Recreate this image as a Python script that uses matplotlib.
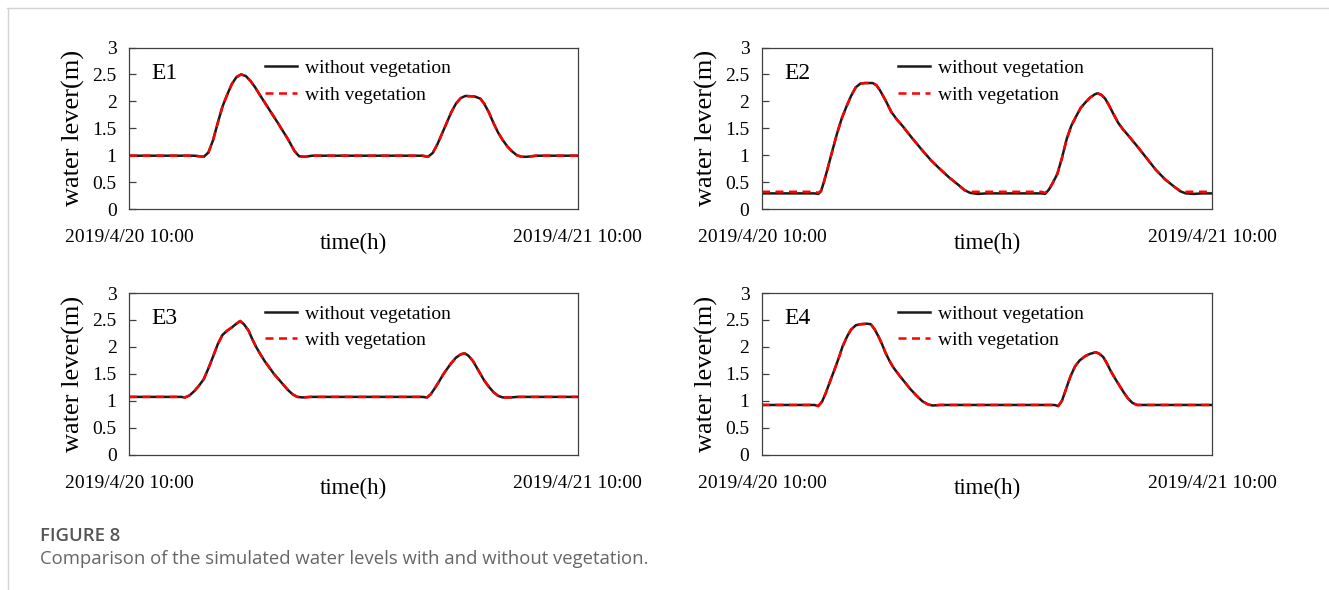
import matplotlib
matplotlib.use("Agg")
import matplotlib.pyplot as plt
from matplotlib.lines import Line2D

# ---- data: water level (m), time in hours after 2019/4/20 10:00 ----
e1_hours = [0, 3.5, 4.0, 4.25, 4.5, 4.75, 5.0, 5.25, 5.5, 5.75, 6.0, 6.25, 6.5,
            6.75, 7.0, 7.5, 8.0, 8.5, 8.85, 9.1, 9.4, 9.8, 15.7, 16.0, 16.25,
            16.5, 16.75, 17.0, 17.25, 17.5, 17.75, 18.0, 18.5, 18.8, 19.0,
            19.25, 19.5, 19.75, 20.0, 20.25, 20.5, 20.75, 21.0, 21.3, 21.8, 24]
e1_without = [0.99, 0.99, 0.97, 1.05, 1.28, 1.60, 1.90, 2.12, 2.32, 2.45, 2.50,
              2.47, 2.38, 2.26, 2.12, 1.85, 1.58, 1.30, 1.08, 0.98, 0.97, 0.99,
              0.99, 0.97, 1.04, 1.20, 1.40, 1.60, 1.80, 1.96, 2.06, 2.10, 2.09,
              2.05, 1.96, 1.80, 1.60, 1.42, 1.28, 1.16, 1.07, 1.00, 0.97, 0.97,
              0.99, 0.99]
e1_with = list(e1_without)

e2_hours = [0, 2.8, 3.0, 3.15, 3.3, 3.5, 3.75, 4.0, 4.25, 4.5, 4.75, 5.0, 5.25,
            5.5, 5.9, 6.1, 6.3, 6.6, 6.9, 7.2, 7.5, 8.0, 8.5, 9.0, 9.5, 10.0,
            10.5, 10.8, 11.1, 11.5, 12, 14.9, 15.1, 15.3, 15.5, 15.75, 16.0,
            16.25, 16.5, 16.75, 17.0, 17.25, 17.5, 17.75, 17.9, 18.1, 18.3,
            18.5, 18.75, 19.0, 19.25, 19.5, 20.0, 20.5, 21.0, 21.5, 22.0, 22.3,
            22.6, 23.0, 23.5, 24]
e2_without = [0.29, 0.29, 0.28, 0.33, 0.50, 0.75, 1.08, 1.40, 1.68, 1.90, 2.10,
              2.26, 2.33, 2.34, 2.34, 2.30, 2.20, 2.01, 1.80, 1.66, 1.54, 1.32,
              1.11, 0.91, 0.74, 0.58, 0.44, 0.35, 0.30, 0.28, 0.29, 0.29, 0.28,
              0.36, 0.48, 0.65, 0.95, 1.30, 1.55, 1.72, 1.88, 1.98, 2.07, 2.13,
              2.15, 2.12, 2.05, 1.93, 1.76, 1.60, 1.48, 1.38, 1.17, 0.95, 0.73,
              0.55, 0.41, 0.33, 0.29, 0.28, 0.29, 0.29]
e2_with = [0.32, 0.32, 0.30, 0.34, 0.50, 0.75, 1.08, 1.40, 1.68, 1.90, 2.10,
           2.26, 2.33, 2.34, 2.34, 2.30, 2.20, 2.01, 1.80, 1.66, 1.54, 1.32,
           1.11, 0.91, 0.74, 0.58, 0.44, 0.35, 0.32, 0.32, 0.32, 0.32, 0.30,
           0.36, 0.48, 0.65, 0.95, 1.30, 1.55, 1.72, 1.88, 1.98, 2.07, 2.13,
           2.15, 2.12, 2.05, 1.93, 1.76, 1.60, 1.48, 1.38, 1.17, 0.95, 0.73,
           0.55, 0.41, 0.34, 0.32, 0.32, 0.32, 0.32]

e3_hours = [0, 2.8, 3.0, 3.25, 3.5, 3.75, 4.0, 4.25, 4.5, 4.75, 5.0, 5.25, 5.5,
            5.75, 5.95, 6.15, 6.4, 6.6, 6.8, 7.0, 7.25, 7.5, 7.75, 8.0, 8.25,
            8.5, 8.75, 9.0, 9.3, 9.7, 15.7, 15.95, 16.15, 16.4, 16.6, 16.8,
            17.0, 17.25, 17.5, 17.75, 17.95, 18.15, 18.4, 18.6, 18.8, 19.0,
            19.25, 19.5, 19.75, 20.0, 20.4, 20.8, 24]
e3_without = [1.07, 1.07, 1.06, 1.10, 1.18, 1.28, 1.40, 1.60, 1.82, 2.05, 2.22,
              2.30, 2.36, 2.43, 2.48, 2.42, 2.30, 2.14, 2.00, 1.88, 1.74, 1.62,
              1.50, 1.40, 1.30, 1.20, 1.12, 1.07, 1.06, 1.07, 1.07, 1.06, 1.12,
              1.25, 1.36, 1.48, 1.58, 1.70, 1.80, 1.86, 1.88, 1.84, 1.74, 1.62,
              1.50, 1.38, 1.26, 1.16, 1.09, 1.06, 1.06, 1.07, 1.07]
e3_with = list(e3_without)

e4_hours = [0, 2.8, 3.0, 3.2, 3.4, 3.6, 3.85, 4.1, 4.3, 4.55, 4.75, 5.0, 5.25,
            5.6, 5.8, 6.0, 6.2, 6.4, 6.6, 6.8, 7.0, 7.3, 7.6, 7.9, 8.25, 8.55,
            8.85, 9.1, 9.5, 15.6, 15.8, 16.0, 16.2, 16.45, 16.7, 16.95, 17.25,
            17.5, 17.8, 18.0, 18.2, 18.4, 18.6, 18.85, 19.1, 19.3, 19.5, 19.75,
            20.0, 24]
e4_without = [0.92, 0.92, 0.90, 0.98, 1.14, 1.33, 1.56, 1.80, 2.01, 2.20, 2.32,
              2.40, 2.42, 2.43, 2.42, 2.33, 2.20, 2.05, 1.88, 1.74, 1.62, 1.48,
              1.35, 1.22, 1.09, 0.99, 0.93, 0.91, 0.92, 0.92, 0.90, 1.00, 1.20,
              1.45, 1.64, 1.75, 1.83, 1.87, 1.90, 1.87, 1.81, 1.69, 1.55, 1.40,
              1.26, 1.15, 1.05, 0.96, 0.92, 0.92]
e4_with = list(e4_without)

panel_names = ["E1", "E2", "E3", "E4"]
panel_hours = [e1_hours, e2_hours, e3_hours, e4_hours]
series_without = [e1_without, e2_without, e3_without, e4_without]
series_with = [e1_with, e2_with, e3_with, e4_with]
x_tick_labels = ["2019/4/20 10:00", "2019/4/21 10:00"]
y_ticks = [0, 0.5, 1, 1.5, 2, 2.5, 3]
y_tick_labels = ["0", "0.5", "1", "1.5", "2", "2.5", "3"]

# ---- figure ----
plt.rcParams["font.family"] = ["Liberation Serif", "DejaVu Serif"]
W, H = 1329, 590
fig = plt.figure(figsize=(W / 100, H / 100), dpi=100)

# page frame (top and left rules)
fig.add_artist(Line2D([7 / W, 1], [1 - 7.5 / H, 1 - 7.5 / H], color="#d4d4d4", lw=1.0))
fig.add_artist(Line2D([7.5 / W, 7.5 / W], [0, 1 - 7.5 / H], color="#d4d4d4", lw=1.0))

# axes boxes in pixels: (left, top, width, height)
boxes = [(129, 47.5, 448.5, 161.5), (762, 47.5, 450, 161.5),
         (129, 293, 448.5, 161.5), (762, 293, 450, 161.5)]

for name, box, t, y_wo, y_w in zip(panel_names, boxes, panel_hours,
                                   series_without, series_with):
    l, tp, w, h = box
    ax = fig.add_axes([l / W, 1 - (tp + h) / H, w / W, h / H])
    ax.plot(t, y_wo, color="#1a1a1a", lw=1.8, label="without vegetation",
            solid_joinstyle="round")
    ax.plot(t, y_w, color="#ff0000", lw=1.8, ls=(0, (3.2, 2.2)),
            dash_joinstyle="round", label="with vegetation")
    ax.set_xlim(0, 24)
    ax.set_ylim(0, 3)
    ax.set_yticks(y_ticks)
    ax.set_yticklabels(y_tick_labels)
    ax.set_xticks([0, 24])
    ax.set_xticklabels(x_tick_labels)
    ax.tick_params(axis="y", direction="in", length=5, width=0.9, color="#404040",
                   labelsize=14, pad=9)
    ax.tick_params(axis="x", direction="in", length=0, labelsize=14, pad=14.5)
    for sp in ax.spines.values():
        sp.set_color("#404040")
        sp.set_linewidth(0.9)
    ax.set_xlabel("time(h)", fontsize=16.5)
    ax.xaxis.set_label_coords(0.5, -0.145)
    ax.set_ylabel("water lever(m)", fontsize=19)
    ax.yaxis.set_label_coords(-0.098, 0.5)
    ax.text(0.05, 0.84, name, transform=ax.transAxes, fontsize=17,
            ha="left", va="center")
    ax.legend(loc="upper left", bbox_to_anchor=(0.303, 0.925), frameon=False,
              fontsize=14, handlelength=1.65, handletextpad=0.4,
              borderpad=0, borderaxespad=0, labelspacing=0.45)

# caption
fig.text(40 / W, 1 - 536 / H, "FIGURE 8", fontsize=13.3, color="#555555",
         family=["Open Sans", "DejaVu Sans"], weight="semibold", va="center")
fig.text(40 / W, 1 - 559.5 / H,
         "Comparison of the simulated water levels with and without vegetation.",
         fontsize=13.3, color="#666666", family=["Open Sans", "DejaVu Sans"],
         va="center")

fig.savefig("out.png", dpi=100)
